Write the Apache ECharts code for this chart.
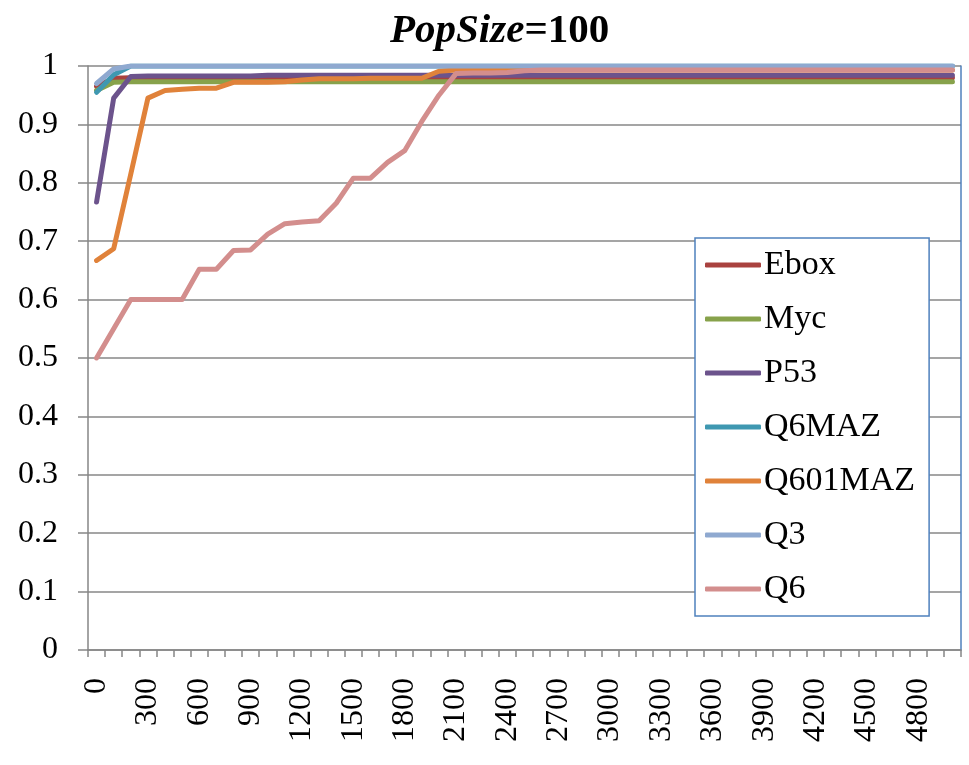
<!DOCTYPE html>
<html>
<head>
<meta charset="utf-8">
<script src="https://cdn.jsdelivr.net/npm/echarts@6/dist/echarts.min.js"></script>
<style>
  html, body { margin: 0; padding: 0; background: #fff; }
  #chart { width: 969px; height: 765px; }
</style>
</head>
<body>
<div id="chart"></div>
<script>
// x categories: 0..5000 step 100
const steps = ['0','100','200','300','400','500','600','700','800','900','1000','1100','1200','1300','1400','1500','1600','1700','1800','1900','2000','2100','2200','2300','2400','2500','2600','2700','2800','2900','3000','3100','3200','3300','3400','3500','3600','3700','3800','3900','4000','4100','4200','4300','4400','4500','4600','4700','4800','4900','5000']

const ebox = [0.965,0.979,0.980,0.980,0.980,0.980,0.980,0.980,0.980,0.980,0.980,0.980,0.980,0.980,0.980,0.980,0.980,0.980,0.980,0.980,0.980,0.980,0.980,0.980,0.980,0.980,0.980,0.980,0.980,0.980,0.980,0.980,0.980,0.980,0.980,0.980,0.980,0.980,0.980,0.980,0.980,0.980,0.980,0.980,0.980,0.980,0.980,0.980,0.980,0.980,0.980]
const myc = [0.958,0.972,0.973,0.973,0.973,0.973,0.973,0.973,0.973,0.973,0.973,0.973,0.973,0.973,0.973,0.973,0.973,0.973,0.973,0.973,0.973,0.973,0.973,0.973,0.973,0.973,0.973,0.973,0.973,0.973,0.973,0.973,0.973,0.973,0.973,0.973,0.973,0.973,0.973,0.973,0.973,0.973,0.973,0.973,0.973,0.973,0.973,0.973,0.973,0.973,0.973]
const p53 = [0.767,0.945,0.982,0.983,0.983,0.983,0.983,0.983,0.983,0.983,0.984,0.984,0.984,0.984,0.984,0.984,0.984,0.984,0.984,0.984,0.984,0.984,0.984,0.984,0.984,0.984,0.984,0.984,0.984,0.984,0.984,0.984,0.984,0.984,0.984,0.984,0.984,0.984,0.984,0.984,0.984,0.984,0.984,0.984,0.984,0.984,0.984,0.984,0.984,0.984,0.984]
const q6maz = [0.955,0.985,1,1,1,1,1,1,1,1,1,1,1,1,1,1,1,1,1,1,1,1,1,1,1,1,1,1,1,1,1,1,1,1,1,1,1,1,1,1,1,1,1,1,1,1,1,1,1,1,1]
const q601maz = [0.667,0.687,0.815,0.945,0.958,0.960,0.962,0.962,0.972,0.972,0.972,0.973,0.976,0.978,0.978,0.978,0.979,0.979,0.979,0.979,0.991,0.993,0.993,0.993,0.993,0.993,0.993,0.993,0.993,0.993,0.993,0.993,0.993,0.993,0.993,0.993,0.993,0.993,0.993,0.993,0.993,0.993,0.993,0.993,0.993,0.993,0.993,0.993,0.993,0.993,0.993]
const q3 = [0.970,0.995,1,1,1,1,1,1,1,1,1,1,1,1,1,1,1,1,1,1,1,1,1,1,1,1,1,1,1,1,1,1,1,1,1,1,1,1,1,1,1,1,1,1,1,1,1,1,1,1,1]
const q6 = [0.500,0.550,0.600,0.600,0.600,0.600,0.652,0.652,0.684,0.685,0.712,0.730,0.733,0.735,0.765,0.808,0.808,0.835,0.855,0.905,0.950,0.987,0.988,0.988,0.989,0.992,0.993,0.993,0.993,0.993,0.993,0.993,0.993,0.993,0.993,0.993,0.993,0.993,0.993,0.993,0.993,0.993,0.993,0.993,0.993,0.993,0.993,0.993,0.993,0.993,0.993]

const names = ['Ebox', 'Myc', 'P53', 'Q6MAZ', 'Q601MAZ', 'Q3', 'Q6']
const values = [ebox, myc, p53, q6maz, q601maz, q3, q6]
const colors = ['#A9423F', '#87A24B', '#6C538C', '#3F98B1', '#E0823A', '#8FA9D0', '#D38E8D']

const serif = '"Liberation Serif", "Times New Roman", serif'

const chart = echarts.init(document.getElementById('chart'))
chart.setOption({
  animation: false,
  backgroundColor: '#fff',
  title: {
    left: 385, top: 6,
    text: '{i|PopSize}{b|=100}',
    textStyle: {
      rich: {
        i: { fontFamily: serif, fontSize: 41, fontWeight: 'bold', fontStyle: 'italic', color: '#000' },
        b: { fontFamily: serif, fontSize: 41, fontWeight: 'bold', color: '#000' }
      }
    }
  },
  legend: {
    orient: 'vertical', left: 695, top: 238,
    data: names,
    icon: 'roundRect', itemWidth: 56, itemHeight: 5,
    itemGap: 20,
    padding: [10, 14, 10, 10],
    backgroundColor: '#fff', borderColor: '#4F81BD', borderWidth: 1.5, borderRadius: 0,
    textStyle: { fontFamily: serif, fontSize: 34, color: '#000', lineHeight: 34, padding: [0, 0, 0, -2] }
  },
  grid: { left: 88, right: 8, top: 66, bottom: 115, containLabel: false },
  xAxis: {
    type: 'category', data: steps, boundaryGap: true,
    axisLine: { lineStyle: { color: '#868686', width: 1.5 } },
    axisTick: { show: true, interval: 0, length: 7, lineStyle: { color: '#868686', width: 1.5 } },
    axisLabel: { interval: 2, rotate: 90, margin: 28, fontFamily: serif, fontSize: 32, color: '#000' },
    splitLine: { show: false }
  },
  yAxis: [
    {
      type: 'value', min: 0, max: 1, interval: 0.1,
      axisLine: { show: true, lineStyle: { color: '#868686', width: 1.5 } },
      axisTick: { show: true, length: 10, lineStyle: { color: '#868686', width: 1.5 } },
      axisLabel: { margin: 30, fontFamily: serif, fontSize: 32, color: '#000' },
      splitLine: { lineStyle: { color: '#878787', width: 1.5 } }
    },
    {
      type: 'value', min: 0, max: 1, position: 'right',
      axisLine: { show: true, lineStyle: { color: '#4F81BD', width: 1.5 } },
      axisTick: { show: false }, axisLabel: { show: false }, splitLine: { show: false }
    }
  ],
  series: names.map((n, k) => ({
    name: n, type: 'line', data: values[k],
    showSymbol: false, symbol: 'none',
    color: colors[k],
    lineStyle: { color: colors[k], width: 5, cap: 'round', join: 'round' }
  }))
})
</script>
</body>
</html>
